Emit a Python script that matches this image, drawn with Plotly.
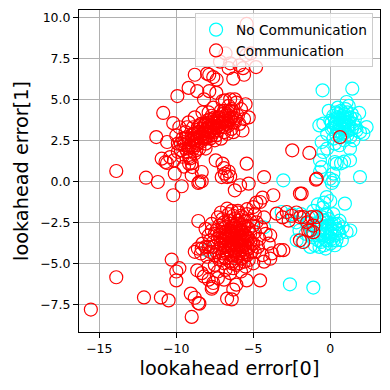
import plotly.graph_objects as go

# ---- data: "No Communication" (cyan) ----
nocomm_upper = [(-0.5,5.55),(1.43,5.65),(1.06,4.84),(1.88,4.17),(2.36,3.31),(1.93,3.0),(1.65,3.3),(-0.71,3.41),
    (-0.56,2.4),(-0.45,1.79),(-0.2,2.0),(0.41,1.08),(0.7,1.1),(1.28,1.28),(1.28,2.0),(1.93,0.26),(-0.02,0.16),
    (0.2,0.06),(-0.56,0.87),(-3.05,0.06),(-0.45,3.52),(-0.67,1.28),(-0.67,0.57),(0.3,1.18),(0.9,1.2),(2.15,2.9),
    (0.2,0.47),(0.3,3.5),(0.6,3.8),(0.9,3.4),(0.5,3.1),(1.0,3.9),(0.2,4.0),(0.7,4.3),(1.2,3.6),(0.4,2.8),(0.8,2.9),
    (1.4,3.2),(0.1,3.2),(0.6,3.5),(1.1,4.2),(0.0,3.7),(0.5,4.5),(1.3,2.7),(0.9,2.5),(0.3,2.3),(-0.2,2.9),(1.6,3.8),
    (0.8,4.0),(0.4,3.6),(1.0,3.0),(0.2,2.6),(0.6,2.2),(1.2,4.6),(-0.1,4.3),(1.5,2.5),(0.7,3.3),(0.1,-0.1)]
nocomm_upper_core = [(0.5,3.9),(0.8,3.6),(1.1,3.3),(0.4,3.3),(0.9,4.1),(1.3,3.9),(0.6,3.0),(1.0,3.6),(0.3,3.8),
    (0.7,3.7),(1.2,3.1),(0.8,3.2),(1.5,3.5),(0.5,4.1),(1.0,4.4),(0.2,3.3),(0.7,2.7),(1.1,2.8),(1.7,3.1),(0.9,3.8),
    (0.4,4.2),(1.4,4.1),(0.6,3.4),(1.2,3.4),(0.1,3.6)]
nocomm_lower = [(-2.62,-6.28),(-1.1,-6.48),(1.06,-3.09),(0.75,-3.6),(-4.3,-2.8),(-8.0,-4.2),(-3.16,-1.87),
    (0.95,-1.36),(-2.18,-3.6),(-1.3,-4.0),(-0.23,-0.96),(-0.4,-1.3),(-0.5,-3.0),(-0.2,-2.7),(-0.8,-3.3),
    (0.1,-3.2),(-0.4,-2.4),(-1.0,-2.8),(0.3,-2.6),(-0.6,-3.7),(0.0,-3.8),(-1.2,-3.4),(0.5,-3.0),(-0.3,-2.0),
    (-0.9,-2.1),(0.2,-2.0),(-1.5,-2.6),(0.6,-2.4),(-0.7,-4.0),(0.4,-3.6),(-1.6,-3.2),(-0.1,-3.4),(-0.5,-1.6),
    (0.0,-1.2),(-1.9,-2.0),(-2.2,-2.5),(-1.8,-3.7),(-0.3,-4.1),(0.8,-2.8),(-1.1,-1.8),(-0.6,-2.5),(0.1,-2.9),
    (-1.4,-2.2),(-2.5,-2.0),(-0.2,-3.6),(0.3,-3.9),(-1.0,-3.9),(-2.0,-3.0),(1.3,-3.0),(-0.8,-1.4),(-0.23,-2.07)]
nocomm_lower_core = [(-0.2,-3.0),(0.1,-2.6),(-0.4,-3.3),(0.3,-3.3),(-0.1,-2.3),(-0.6,-2.8),(0.4,-2.9),
    (-0.3,-3.6),(0.0,-3.1),(-0.7,-3.2),(0.2,-3.6),(-0.5,-2.2),(0.6,-3.2),(-0.9,-2.6),(-0.2,-2.5),(0.5,-2.6),
    (-1.2,-3.0),(-0.4,-3.9),(0.1,-3.5),(-0.8,-3.6)]

# ---- data: "Communication" (red) ----
comm_upper_core = [(-9.7,1.9),(-9.5,2.2),(-9.6,2.6),(-9.3,1.8),(-9.2,2.4),(-9.4,3.0),(-9.0,2.1),(-9.0,2.8),
    (-8.9,3.3),(-8.8,1.7),(-8.7,2.5),(-8.6,3.0),(-8.5,2.0),(-8.4,3.5),(-8.3,2.7),(-8.2,3.1),(-8.1,2.3),(-8.0,3.7),
    (-8.0,2.9),(-7.9,3.3),(-7.8,2.6),(-7.7,4.0),(-7.6,3.0),(-7.5,3.5),(-7.4,2.8),(-7.3,3.9),(-7.2,3.3),(-7.1,4.3),
    (-7.0,3.6),(-6.9,3.0),(-6.8,4.0),(-6.7,3.5),(-6.6,4.6),(-6.5,3.8),(-6.4,3.2),(-6.3,4.2),(-6.2,3.6),(-6.1,4.8),
    (-6.0,4.0),(-5.9,3.5),(-5.8,4.4),(-5.6,3.8),(-5.5,4.7),(-9.9,2.3),(-9.8,3.3),(-9.6,1.5),(-9.1,1.4),(-8.8,3.9),
    (-8.3,4.2),(-7.6,4.5),(-7.0,4.9),(-6.5,5.0),(-8.9,2.0),(-8.6,2.3),(-8.1,2.0),(-7.8,3.8),(-7.3,3.1),(-7.1,2.6),
    (-6.7,2.9),(-9.4,2.0),(-9.2,3.6),(-7.9,4.2),(-7.5,2.5),(-8.5,3.4),(-6.9,3.8),(-6.3,3.0),(-5.3,3.9),(-5.7,3.1),
    (-10.0,2.8),(-9.9,1.8),(-6.19,3.84),(-6.84,4.94)]
comm_upper_dense = [(-9.5,2.4),(-9.3,2.7),(-9.1,2.2),(-8.9,2.6),(-8.8,2.9),(-8.7,2.2),(-8.6,2.7),(-8.5,3.0),
    (-8.4,2.4),(-8.3,3.2),(-8.2,2.6),(-8.1,3.5),(-8.0,2.7),(-7.9,3.0),(-7.8,3.4),(-7.7,2.8),(-7.6,3.6),(-7.5,3.1),
    (-7.4,3.7),(-7.3,3.4),(-7.2,3.9),(-7.1,3.5),(-7.0,4.1),(-6.9,3.6),(-6.8,3.3),(-6.7,4.1),(-6.6,3.7),(-6.5,4.3),
    (-6.4,3.9),(-6.3,3.6),(-9.2,2.0),(-9.0,2.5),(-8.8,2.4),(-8.6,3.3),(-8.4,2.8),(-8.2,3.4),(-8.0,3.2),(-7.8,3.1),
    (-7.6,3.3),(-7.4,3.3),(-7.2,3.6),(-7.0,3.3),(-6.8,3.7),(-6.6,4.0),(-6.4,4.4),(-9.7,2.3),(-9.4,2.6),(-8.9,2.9),
    (-8.3,2.9),(-7.9,3.6),(-7.5,3.9),(-7.3,3.6),(-6.9,4.3),(-6.6,3.4),(-8.7,1.9),(-9.3,3.3),(-8.1,2.6),(-7.7,3.3)]
comm_upper_scatter = [(-11.3,2.7),(-10.85,4.17),(-10.2,3.55),(-10.6,2.4),(-10.4,1.48),(-10.95,1.38),(-10.6,1.12),
    (-10.15,1.28),(-9.93,5.2),(-9.2,5.7),(-8.8,6.5),(-8.64,5.5),(-7.86,6.5),(-7.86,5.5),(-7.38,6.2),(-6.8,7.8),
    (-7.16,7.3),(-6.6,6.9),(-6.3,6.26),(-5.6,6.5),(-5.47,7.7),(-4.82,6.97),(-5.43,9.6),(-5.17,7.8),(-5.9,7.07),
    (-7.6,6.36),(-8.0,6.57),(-6.5,7.2),(-5.67,6.9),(-7.4,5.4),(-6.2,5.0),(-8.2,5.0),
    (-9.17,1.48),(-8.96,0.87),(-9.17,1.08),(-8.35,0.57),(-8.5,-0.04),(-7.44,1.28),(-7.0,1.08),(-6.7,0.26),
    (-7.05,0.26),(-6.85,0.47),(-6.6,0.6),(-6.2,-0.55),(-5.86,-0.24),(-5.3,-0.14),(-5.43,1.08),(-4.3,0.26),
    (-4.56,-1.26),(-4.4,-1.0),(-3.7,-0.85),(-1.86,-0.75),(-0.93,0.1),(-11.97,0.22),(-11.2,-0.04),(-10.2,-0.85),
    (-10.1,0.47),(-9.65,-0.3),(-9.0,0.37),(-8.57,-0.1),(-8.35,0.0),(-13.9,0.63),(-9.0,1.1),(-6.5,0.3),(-6.9,0.8),
    (-2.47,1.89),(-1.36,1.73),(0.63,2.7),(-0.88,0.16),(-1.97,-0.75),(-9.5,0.9),(-10.7,1.18)]
comm_right = [(-3.48,-1.97),(-2.83,-1.87),(-2.5,-2.1),(-1.97,-2.18),(-1.2,-2.18),(-0.9,-2.18),(-1.43,-2.99),
    (-1.1,-3.1),(-1.75,-3.7),(-3.27,-4.2),(-1.97,-3.6),(-1.3,-3.0),(-1.1,-2.7),(-1.75,-2.18),(-2.2,-1.9),
    (-3.1,-2.2),(-2.7,-2.4),(-1.5,-2.5)]
comm_lower_core = [(-6.3,-3.5),(-6.0,-3.2),(-6.6,-3.8),(-5.8,-3.9),(-6.8,-3.1),(-6.1,-4.2),(-5.5,-3.3),(-7.0,-3.6),
    (-6.4,-2.8),(-5.9,-2.6),(-6.7,-4.4),(-5.6,-4.6),(-7.2,-4.1),(-5.3,-2.9),(-7.4,-3.0),(-6.2,-2.3),(-5.7,-2.2),
    (-6.9,-2.5),(-5.2,-3.7),(-7.6,-3.7),(-6.5,-4.9),(-5.9,-5.0),(-7.1,-4.8),(-5.1,-4.3),(-7.8,-4.3),(-4.9,-3.1),
    (-6.0,-1.9),(-6.6,-2.0),(-5.4,-2.0),(-7.3,-2.2),(-4.8,-2.5),(-4.7,-4.0),(-7.9,-3.3),(-8.0,-4.6),(-6.3,-5.3),
    (-5.5,-5.2),(-7.5,-5.1),(-4.6,-3.5),(-6.8,-5.4),(-8.1,-2.9),(-6.1,-3.0),(-6.4,-3.3),(-6.2,-3.9),(-5.7,-3.6),
    (-6.9,-3.9),(-5.8,-3.0),(-6.5,-2.6),(-6.0,-4.6),(-7.0,-2.8),(-5.4,-4.0),(-6.6,-3.4),(-6.1,-3.6),(-5.9,-3.4),
    (-6.3,-4.1),(-6.8,-3.5),(-5.6,-2.8),(-7.2,-3.3),(-5.2,-2.4),(-4.5,-2.8),(-4.4,-4.5),(-8.3,-3.8),(-7.7,-2.6),
    (-6.4,-1.8),(-5.0,-5.0),(-7.3,-5.5),(-4.2,-3.2),(-8.4,-4.4),(-5.7,-4.4),(-6.7,-4.0),(-6.0,-3.7),(-6.2,-2.7),
    (-5.5,-3.6),(-7.5,-4.5),(-6.9,-4.6),(-5.3,-4.8),(-4.9,-2.0),(-7.1,-1.9),(-5.0,-3.8),(-4.3,-2.2),(-6.5,-5.6),
    (-5.8,-5.5),(-8.6,-4.1),(-7.9,-5.2),(-3.9,-3.3),(-5.0,-1.57),(-4.8,-1.3),(-5.4,-1.7),(-6.7,-1.67),(-6.0,-1.8),
    (-4.0,-3.8),(-3.8,-4.4)]
comm_lower_dense = [(-7.2,-2.7),(-7.0,-3.1),(-6.8,-2.8),(-6.7,-3.3),(-6.5,-3.0),(-6.4,-3.7),(-6.3,-2.9),
    (-6.2,-3.3),(-6.1,-2.6),(-6.0,-3.5),(-5.9,-3.0),(-5.8,-3.6),(-5.7,-3.1),(-5.6,-3.9),(-5.5,-2.7),(-5.4,-3.4),
    (-5.3,-4.1),(-7.1,-3.8),(-6.9,-4.2),(-6.7,-3.6),(-6.6,-4.2),(-6.5,-3.4),(-6.4,-4.5),(-6.3,-3.8),(-6.2,-4.3),
    (-6.1,-3.9),(-6.0,-4.1),(-5.9,-4.4),(-5.8,-4.2),(-5.7,-4.0),(-5.6,-3.3),(-5.5,-4.3),(-7.3,-3.5),(-7.4,-4.3),
    (-7.0,-4.4),(-6.8,-4.7),(-6.2,-4.7),(-5.8,-4.7),(-5.5,-2.4),(-6.0,-2.4),(-6.6,-2.4),(-7.0,-2.3),(-6.3,-2.1),
    (-5.8,-2.1),(-7.5,-3.2),(-7.6,-4.0),(-5.2,-3.2),(-5.1,-3.8),(-4.9,-4.3),(-7.7,-3.0),(-6.9,-3.4),(-6.4,-3.1),
    (-6.1,-3.3),(-5.9,-3.8),(-6.6,-3.0),(-6.0,-2.9),(-6.3,-3.2),(-6.5,-3.9),(-5.7,-3.4),(-6.8,-4.0),(-7.2,-4.6),
    (-6.4,-5.0),(-5.6,-4.9),(-5.3,-3.5),(-5.0,-2.7),(-7.8,-3.6),(-7.9,-4.0),(-6.9,-5.0),(-6.1,-5.1),(-5.4,-4.5)]
comm_lower_scatter = [(-15.55,-7.82),(-13.9,-5.85),(-12.1,-7.08),(-11.0,-7.08),(-10.5,-7.26),(-10.3,-4.78),
    (-9.8,-5.3),(-10.0,-5.5),(-10.0,-6.04),(-9.0,-8.27),(-9.06,-6.85),(-8.57,-7.42),(-8.8,-7.1),(-8.5,-7.46),
    (-8.64,-5.43),(-8.35,-5.6),(-8.2,-5.8),(-7.7,-6.55),(-7.6,-6.2),(-7.66,-6.44),(-7.9,-6.0),(-6.4,-7.2),
    (-6.7,-7.15),(-6.3,-6.6),(-6.1,-6.3),(-5.43,-6.04),(-4.56,-6.04),(-7.3,-5.9),(-6.9,-6.0),(-3.9,-4.72),
    (-3.05,-4.2),(-4.3,-4.9),(-8.57,-2.42),(-8.1,-4.0),(-8.35,-4.1),(-8.8,-4.3)]

comm = (comm_upper_core + comm_upper_dense + comm_upper_scatter + comm_right
        + comm_lower_core + comm_lower_dense + comm_lower_scatter)
nocomm = nocomm_upper + nocomm_upper_core + nocomm_lower + nocomm_lower_core

x_ticks = [-15, -10, -5, 0]
x_tick_text = ["\u221215", "\u221210", "\u22125", "0"]
y_ticks = [-7.5, -5.0, -2.5, 0.0, 2.5, 5.0, 7.5, 10.0]
y_tick_text = ["\u22127.5", "\u22125.0", "\u22122.5", "0.0", "2.5", "5.0", "7.5", "10.0"]

fig = go.Figure()
fig.add_trace(go.Scatter(
    x=[p[0] for p in nocomm], y=[p[1] for p in nocomm], mode="markers", name="No Communication",
    marker=dict(symbol="circle-open", size=13, color="cyan", line=dict(width=1.2))))
fig.add_trace(go.Scatter(
    x=[p[0] for p in comm], y=[p[1] for p in comm], mode="markers", name="Communication",
    marker=dict(symbol="circle-open", size=13, color="red", line=dict(width=1.2))))

axis_common = dict(showline=True, linecolor="black", linewidth=1, mirror=True,
                   ticks="outside", ticklen=5, tickwidth=1, tickcolor="black",
                   showgrid=True, gridcolor="#b0b0b0", gridwidth=1, zeroline=False,
                   tickfont=dict(family="DejaVu Sans", size=12.5, color="black"),
                   automargin=False)
fig.update_xaxes(range=[-16.32, 3.23], tickvals=x_ticks, ticktext=x_tick_text,
                 title=dict(text="lookahead error[0]", font=dict(family="DejaVu Sans", size=19.3, color="black"), standoff=6),
                 **axis_common)
fig.update_yaxes(range=[-9.19, 10.45], tickvals=y_ticks, ticktext=y_tick_text,
                 title=dict(text="lookahead error[1]", font=dict(family="DejaVu Sans", size=19.3, color="black"), standoff=6),
                 **axis_common)
# page body has an 8px margin, so the figure is sized/offset to land the plot area where the reference has it
fig.update_layout(
    width=382, height=382, template="none",
    margin=dict(l=71, r=10, t=2, b=58),
    plot_bgcolor="white", paper_bgcolor="white",
    font=dict(family="DejaVu Sans", color="black"),
    legend=dict(x=0.977, y=0.99, xanchor="right", yanchor="top",
                bgcolor="rgba(255,255,255,0.8)", bordercolor="#cccccc", borderwidth=1,
                font=dict(family="DejaVu Sans", size=13.7, color="black")),
    showlegend=True,
)
fig.write_html("out.html")
